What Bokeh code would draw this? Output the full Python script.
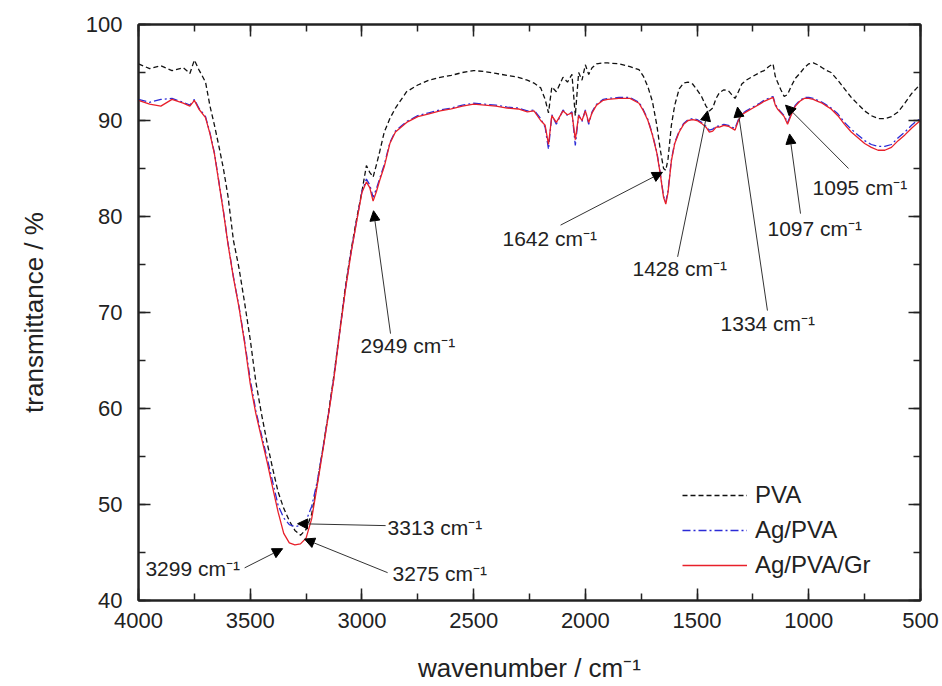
from bokeh.plotting import figure
from bokeh.models import (Range1d, SingleIntervalTicker, LinearAxis, Label, Arrow, NormalHead,
                          CustomJSTickFormatter)
from bokeh.embed import file_html
from bokeh.resources import INLINE

# ---------------- data ----------------
wavenumber = [4000, 3950, 3900, 3850, 3800, 3770, 3750, 3730, 3700, 3680, 3660, 3640, 3620, 3600,
              3575, 3550, 3525, 3500, 3475, 3450, 3425, 3400, 3375, 3350, 3325, 3300, 3275, 3250,
              3225, 3200, 3175, 3150, 3125, 3100, 3075, 3050, 3025, 3000, 2980, 2965, 2950, 2935,
              2920, 2900, 2875, 2850, 2800, 2750, 2700, 2650, 2600, 2550, 2500, 2450, 2400, 2350,
              2300, 2260, 2230, 2200, 2180, 2165, 2150, 2130, 2100, 2080, 2060, 2045, 2030, 2015,
              2000, 1985, 1970, 1950, 1920, 1900, 1850, 1800, 1760, 1740, 1720, 1700, 1680, 1665,
              1650, 1640, 1630, 1615, 1600, 1580, 1560, 1540, 1520, 1500, 1480, 1460, 1445, 1430,
              1415, 1400, 1380, 1360, 1345, 1330, 1315, 1300, 1280, 1250, 1220, 1200, 1180, 1160,
              1150, 1140, 1125, 1110, 1095, 1080, 1060, 1040, 1020, 1000, 980, 960, 940, 920, 900,
              870, 840, 810, 780, 750, 720, 690, 660, 630, 600, 570, 540, 520, 500]

pva = [95.9, 95.4, 95.7, 95.2, 95.5, 94.9, 96.3, 95.3, 94.0, 91.5, 89.5, 87.3, 85.0, 82.2,
       77.5, 74.6, 71.0, 67.2, 62.8, 59.5, 56.5, 53.8, 51.3, 49.6, 48.3, 47.3, 46.8, 47.4,
       49.0, 52.2, 55.8, 59.5, 63.5, 68.0, 72.5, 76.3, 79.6, 82.6, 85.3, 84.6, 84.1, 85.4,
       86.8, 88.8, 90.2, 91.3, 93.0, 93.7, 94.2, 94.5, 94.7, 95.0, 95.2, 95.1, 94.9, 94.7,
       94.5, 94.2, 93.9, 93.4, 92.2, 90.8, 93.5, 93.0, 94.5, 94.0, 94.8, 90.5, 95.0, 94.2,
       95.8, 94.8, 95.5, 95.9, 96.0, 96.0, 95.9, 95.6, 95.3, 94.6, 93.5, 92.0, 89.5, 87.0,
       85.0, 84.8, 86.0, 89.5, 91.6, 93.3, 93.9, 94.0, 93.8, 93.2, 92.5, 91.5, 91.0, 91.3,
       92.3, 92.9, 93.2, 93.1, 92.7, 92.3, 93.0, 93.8, 94.2, 94.6, 95.0, 95.2, 95.6, 95.9,
       94.6, 94.0, 93.2, 92.5, 92.7, 93.5, 94.4, 94.9, 95.5, 95.9, 96.0, 95.8, 95.5, 95.2, 95.0,
       94.2, 93.3, 92.4, 91.7, 91.0, 90.5, 90.2, 90.2, 90.4, 90.9, 91.8, 92.8, 93.3, 93.8]

ag_pva = [92.2, 91.9, 92.2, 92.3, 91.9, 91.6, 92.2, 91.3, 90.4, 88.7, 86.6, 83.6, 80.6, 77.3,
          73.7, 70.6, 67.0, 63.0, 59.8, 57.3, 54.9, 52.4, 49.9, 48.6, 47.9, 47.7, 47.8, 48.3,
          49.8, 52.4, 55.8, 59.4, 63.3, 67.9, 72.3, 76.1, 79.4, 82.6, 83.9, 83.3, 82.0, 82.9,
          84.0, 85.4, 87.7, 88.9, 89.9, 90.5, 90.8, 91.1, 91.3, 91.6, 91.8, 91.7, 91.6, 91.4,
          91.3, 91.0, 91.1, 90.2, 89.3, 87.0, 90.6, 89.6, 91.1, 90.5, 90.9, 87.4, 90.6, 89.9,
          91.1, 89.6, 90.9, 91.7, 92.2, 92.3, 92.4, 92.4, 91.9, 91.1, 90.1, 88.6, 86.7, 84.6,
          82.1, 81.5, 82.7, 85.9, 87.7, 88.9, 89.7, 90.1, 90.2, 90.1, 89.8, 89.4, 89.0, 89.1,
          89.4, 89.4, 89.6, 89.5, 89.3, 89.2, 90.1, 90.7, 91.0, 91.4, 91.8, 92.1, 92.3, 92.5,
          91.7, 91.3, 90.9, 90.5, 89.8, 90.6, 91.6, 92.1, 92.4, 92.4, 92.3, 92.1, 91.9, 91.6, 91.3,
          90.7, 89.8, 89.1, 88.5, 87.9, 87.5, 87.3, 87.3, 87.5, 88.2, 88.8, 89.5, 89.9, 90.2]

ag_pva_gr = [92.1, 91.7, 91.5, 92.2, 91.8, 91.5, 92.1, 91.2, 90.3, 88.6, 86.5, 83.5, 80.5, 77.2,
             73.6, 70.5, 66.8, 62.6, 59.5, 57.0, 54.5, 51.8, 49.2, 47.0, 46.0, 45.8, 45.9, 46.5,
             48.5, 52.0, 55.6, 59.3, 63.2, 67.8, 72.2, 76.0, 79.3, 82.5, 83.6, 83.0, 81.6, 82.6,
             83.8, 85.2, 87.6, 88.8, 89.8, 90.4, 90.7, 91.0, 91.2, 91.5, 91.7, 91.6, 91.5, 91.3,
             91.2, 90.9, 91.0, 90.0, 89.5, 87.5, 90.5, 89.8, 91.0, 90.6, 90.8, 88.0, 90.5, 90.0,
             91.0, 89.8, 90.8, 91.6, 92.1, 92.2, 92.3, 92.3, 91.8, 91.0, 90.0, 88.5, 86.6, 84.5,
             82.0, 81.3, 82.5, 85.8, 87.6, 88.8, 89.6, 90.0, 90.1, 90.0, 89.7, 89.3, 88.8, 88.9,
             89.3, 89.3, 89.5, 89.4, 89.2, 89.0, 90.0, 90.6, 90.9, 91.3, 91.7, 92.0, 92.2, 92.4,
             91.6, 91.2, 90.8, 90.4, 89.6, 90.5, 91.5, 92.0, 92.3, 92.3, 92.2, 92.0, 91.8, 91.5, 91.2,
             90.5, 89.6, 88.8, 88.2, 87.6, 87.2, 86.9, 86.9, 87.2, 87.9, 88.5, 89.2, 89.6, 90.0]

series_names = ["PVA", "Ag/PVA", "Ag/PVA/Gr"]

# peak annotations: label text, arrow tip (wavenumber, %)
peak_labels = ["3299 cm\u207b\u00b9", "3313 cm\u207b\u00b9", "3275 cm\u207b\u00b9", "2949 cm\u207b\u00b9",
               "1642 cm\u207b\u00b9", "1428 cm\u207b\u00b9", "1334 cm\u207b\u00b9", "1097 cm\u207b\u00b9",
               "1095 cm\u207b\u00b9"]
tip_x = [3355, 3288, 3257, 2948, 1655, 1453, 1319, 1086, 1104]
tip_y = [45.4, 48.0, 46.4, 80.6, 84.6, 91.0, 91.4, 88.6, 91.6]

# label layout (text anchor and arrow start)
text_x = [3969, 2885, 2863, 3006, 2371, 1789, 1395, 1185, 983]
text_y = [43.3, 47.6, 42.8, 66.6, 77.7, 74.6, 68.9, 78.8, 83.0]
start_x = [3525, 2894, 2885, 2872, 2111, 1587, 1185, 1037, 822]
start_y = [43.4, 47.8, 42.9, 67.8, 79.1, 75.8, 70.2, 80.3, 85.0]

FONT = "Liberation Sans"
INK = "#222222"

p = figure(width=942, height=686, x_range=Range1d(4000, 500), y_range=Range1d(40, 100),
           output_backend="svg", toolbar_location=None,
           min_border_left=138, min_border_right=22, min_border_top=24, min_border_bottom=86)
p.grid.visible = False
p.outline_line_color = INK
p.outline_line_width = 2
p.background_fill_color = "white"
p.border_fill_color = "white"

styles = [dict(color="#111111", line_dash="5 3", line_width=1.3),
          dict(color="#2b2bd6", line_dash="8 3 2 3", line_width=1.3),
          dict(color="#e8202a", line_dash="solid", line_width=1.3)]
for ys, name, st in zip([pva, ag_pva, ag_pva_gr], series_names, styles):
    p.line(wavenumber, ys, legend_label=name, **st)

p.xaxis.ticker = SingleIntervalTicker(interval=500, num_minor_ticks=2)
p.yaxis.ticker = SingleIntervalTicker(interval=10, num_minor_ticks=2)

def style_axis(ax):
    ax.major_tick_in = 12
    ax.major_tick_out = 0
    ax.minor_tick_in = 7
    ax.minor_tick_out = 0
    ax.axis_line_color = INK
    ax.axis_line_width = 2
    ax.major_tick_line_color = INK
    ax.major_tick_line_width = 1.5
    ax.minor_tick_line_color = INK
    ax.minor_tick_line_width = 1.5
    ax.major_label_text_font = FONT
    ax.major_label_text_color = INK
    ax.major_label_text_font_size = "22px"

style_axis(p.xaxis[0])
style_axis(p.yaxis[0])
p.xaxis.major_label_standoff = 12
p.yaxis.major_label_standoff = 16

p.xaxis.axis_label = "wavenumber / cm\u207b\u00b9"
p.yaxis.axis_label = "transmittance / %"
for ax in (p.xaxis[0], p.yaxis[0]):
    ax.axis_label_text_font = FONT
    ax.axis_label_text_font_size = "26px"
    ax.axis_label_text_font_style = "normal"
    ax.axis_label_text_color = INK
p.xaxis.axis_label_standoff = 22
p.yaxis.axis_label_standoff = 34

# mirrored tick axes on top and right (ticks only, no labels)
blank = CustomJSTickFormatter(code="return '';")
top = LinearAxis(ticker=SingleIntervalTicker(interval=500, num_minor_ticks=2), formatter=blank)
right = LinearAxis(ticker=SingleIntervalTicker(interval=10, num_minor_ticks=2), formatter=blank)
style_axis(top)
style_axis(right)
top.major_label_standoff = 0
right.major_label_standoff = 0
p.add_layout(top, "above")
p.add_layout(right, "right")

for t, tx, ty, sx, sy, ex, ey in zip(peak_labels, text_x, text_y, start_x, start_y, tip_x, tip_y):
    p.add_layout(Arrow(end=NormalHead(size=10, fill_color="black", line_color="black"),
                       x_start=sx, y_start=sy, x_end=ex, y_end=ey,
                       line_color="#333333", line_width=1))
    p.add_layout(Label(x=tx, y=ty, text=t, text_font=FONT, text_font_size="21px",
                       text_color=INK, text_baseline="middle", text_align="left"))

lg = p.legend[0]
lg.location = (544, 21)
lg.border_line_color = None
lg.background_fill_alpha = 0
lg.label_text_font = FONT
lg.label_text_font_size = "24px"
lg.label_text_color = INK
lg.glyph_width = 65
lg.glyph_height = 24
lg.label_height = 24
lg.spacing = 7
lg.padding = 0
lg.margin = 0
lg.label_standoff = 8

open("out.html", "w").write(file_html(p, INLINE))
